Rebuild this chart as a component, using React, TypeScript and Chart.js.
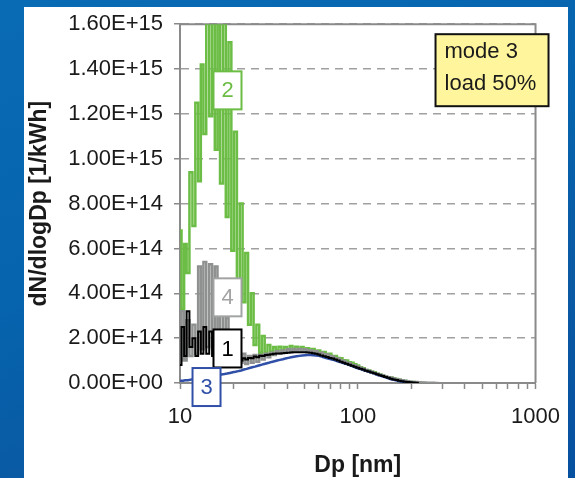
import { useEffect, useRef } from 'react';
import { Chart, registerables } from 'chart.js';

Chart.register(...registerables);

// Particle diameters (nm), 64 channels per decade
const diameters = [
  10.0, 10.4, 10.7, 11.1, 11.5, 12.0, 12.4, 12.9, 13.3, 13.8,
  14.3, 14.9, 15.4, 16.0, 16.5, 17.1, 17.8, 18.4, 19.1, 19.8,
  20.5, 21.3, 22.1, 22.9, 23.7, 24.6, 25.5, 26.4, 27.4, 28.4,
  29.4, 30.5, 31.6, 32.8, 34.0, 35.2, 36.5, 37.9, 39.2, 40.7,
  42.2, 43.7, 45.3, 47.0, 48.7, 50.5, 52.3, 54.2, 56.2, 58.3,
  60.4, 62.6, 64.9, 67.3, 69.8, 72.3, 75.0, 77.7, 80.6, 83.5,
  86.6, 89.8, 93.1, 96.5, 100, 103.7, 107.5, 111.4, 115.5, 119.7,
  124.1, 128.6, 133.4, 138.2, 143.3, 148.6, 154.0, 159.6, 165.5, 171.5,
  177.8, 184.3, 191.1, 198.1, 205.4, 212.9, 220.7, 228.8, 237.1, 245.8,
  254.8, 264.2, 273.8, 283.9,
];

// dN/dlogDp values in units of 1E+14 1/kWh
const series1 = [ // black
  0.8, 2.5, 1.2, 3.2, 1.6, 2.0, 1.2, 2.3, 1.3, 2.5,
  1.3, 2.3, 1.2, 2.1, 1.1, 1.6, 1.0, 1.3, 0.9, 1.1,
  0.95, 1.05, 1.0, 1.1, 1.05, 1.12, 1.1, 1.18, 1.15, 1.22,
  1.2, 1.25, 1.26, 1.28, 1.3, 1.31, 1.32, 1.33, 1.34, 1.35,
  1.36, 1.37, 1.37, 1.37, 1.37, 1.37, 1.36, 1.35, 1.33, 1.3,
  1.27, 1.23, 1.19, 1.16, 1.12, 1.09, 1.05, 1.0, 0.95, 0.9,
  0.86, 0.81, 0.77, 0.72, 0.68, 0.64, 0.6, 0.55, 0.51, 0.47,
  0.43, 0.39, 0.35, 0.31, 0.27, 0.23, 0.19, 0.16, 0.13, 0.1,
  0.08, 0.06, 0.04, 0.03, 0.02, 0.01, 0,
];
const series2 = [ // green
  6.8, 3.3, 6.2, 4.9, 9.4, 7.0, 12.5, 9.0, 14.2, 11.1,
  17.5, 11.9, 17.5, 10.4, 17.5, 8.9, 17.5, 7.4, 15.2, 5.9,
  11.2, 4.5, 8.0, 3.6, 5.8, 2.6, 4.0, 1.7, 2.6, 1.35,
  2.1, 1.35, 1.7, 1.4, 1.6, 1.45, 1.62, 1.45, 1.6, 1.5,
  1.65, 1.5, 1.62, 1.52, 1.6, 1.5, 1.55, 1.48, 1.52, 1.42,
  1.45, 1.36, 1.38, 1.28, 1.3, 1.2, 1.2, 1.12, 1.1, 1.02,
  1.0, 0.93, 0.9, 0.84, 0.78, 0.7, 0.66, 0.58, 0.56, 0.5,
  0.48, 0.41, 0.38, 0.33, 0.3, 0.26, 0.24, 0.2, 0.18, 0.14,
  0.12, 0.09, 0.07, 0.05, 0.04, 0.03, 0.02, 0.01, 0,
];
const series3 = [ // blue
  0.1, 0.1, 0.12, 0.12, 0.15, 0.18, 0.2, 0.22, 0.25, 0.27,
  0.28, 0.3, 0.31, 0.33, 0.35, 0.38, 0.4, 0.42, 0.45, 0.48,
  0.5, 0.53, 0.56, 0.6, 0.63, 0.67, 0.7, 0.73, 0.77, 0.8,
  0.84, 0.87, 0.9, 0.94, 0.97, 1.0, 1.03, 1.06, 1.09, 1.12,
  1.15, 1.17, 1.19, 1.21, 1.23, 1.24, 1.25, 1.25, 1.24, 1.23,
  1.21, 1.18, 1.14, 1.1, 1.07, 1.04, 1.0, 0.96, 0.92, 0.88,
  0.84, 0.8, 0.75, 0.7, 0.66, 0.62, 0.58, 0.54, 0.5, 0.46,
  0.42, 0.37, 0.33, 0.29, 0.25, 0.21, 0.17, 0.14, 0.11, 0.08,
  0.06, 0.04, 0.02, 0.01, 0,
];
const series4 = [ // grey
  1.0, 3.2, 1.0, 2.8, 1.2, 2.6, 1.3, 5.2, 1.5, 5.4,
  1.6, 5.3, 1.5, 5.2, 1.4, 3.0, 1.3, 2.9, 1.2, 2.2,
  1.0, 1.8, 0.9, 1.3, 0.85, 1.2, 0.9, 1.25, 0.95, 1.25,
  1.05, 1.3, 1.15, 1.35, 1.25, 1.42, 1.32, 1.45, 1.38, 1.5,
  1.42, 1.52, 1.45, 1.52, 1.45, 1.5, 1.44, 1.46, 1.4, 1.42,
  1.35, 1.35, 1.28, 1.27, 1.2, 1.18, 1.1, 1.08, 1.0, 0.98,
  0.9, 0.88, 0.8, 0.78, 0.72, 0.68, 0.62, 0.58, 0.53, 0.5,
  0.45, 0.41, 0.37, 0.33, 0.3, 0.26, 0.23, 0.2, 0.17, 0.14,
  0.12, 0.1, 0.08, 0.06, 0.05, 0.04, 0.03, 0.02, 0.02, 0.01,
  0.01, 0.01, 0, 0,
];

const xTickValues = [10, 20, 30, 40, 50, 60, 70, 80, 90, 100, 200, 300, 400, 500, 600, 700, 800, 900, 1000];
const xTickLabels = [10, 100, 1000];
const yMax = 1.6e15;
const yStep = 2e14;
const UNIT = 1e14;

const curveLabels = [
  { text: '2', x: 18.5, y: 13.05e14, color: '#6cbd45' },
  { text: '4', x: 18.5, y: 3.82e14, color: '#a2a4a3' },
  { text: '1', x: 18.5, y: 1.54e14, color: '#000000' },
  { text: '3', x: 14.1, y: -0.18e14, color: '#3050a8' },
];
const noteLines = ['mode 3', 'load 50%'];

const FONT = '"Liberation Sans", Arial, Helvetica, sans-serif';
const AXIS = '#8a8a8a';

function sci(v: number): string {
  return v.toExponential(2).replace(/e([+-])(\d)$/, 'e$10$2').toUpperCase();
}

function pts(vals: number[]) {
  return vals.map((v, i) => ({ x: diameters[i], y: v * UNIT }));
}

const framePlugin = {
  id: 'frame',
  beforeDatasetsDraw(chart: any) {
    const { ctx, chartArea: a } = chart;
    ctx.save();
    ctx.strokeStyle = AXIS;
    ctx.lineWidth = 2;
    ctx.beginPath();
    ctx.moveTo(a.left, a.top);
    ctx.lineTo(a.right, a.top);
    ctx.lineTo(a.right, a.bottom);
    ctx.stroke();
    ctx.restore();
  },
};

const labelPlugin = {
  id: 'labels',
  afterDatasetsDraw(chart: any) {
    const { ctx, chartArea: a, scales } = chart;
    ctx.save();
    ctx.font = '22px ' + FONT;
    ctx.textAlign = 'center';
    ctx.textBaseline = 'middle';
    for (const l of curveLabels) {
      const px = scales.x.getPixelForValue(l.x);
      const py = scales.y.getPixelForValue(l.y);
      const w = 28, h = 38;
      ctx.fillStyle = '#ffffff';
      ctx.fillRect(px - w / 2, py - h / 2, w, h);
      ctx.strokeStyle = l.color;
      ctx.lineWidth = 2;
      ctx.strokeRect(px - w / 2, py - h / 2, w, h);
      ctx.fillStyle = l.color;
      ctx.fillText(l.text, px, py + 1);
    }
    // note box
    const bx = a.right - 100, by = a.top + 10, bw = 113, bh = 72;
    ctx.fillStyle = '#fff59c';
    ctx.fillRect(bx, by, bw, bh);
    ctx.strokeStyle = '#111111';
    ctx.lineWidth = 2;
    ctx.strokeRect(bx, by, bw, bh);
    ctx.fillStyle = '#1a1a1a';
    ctx.textAlign = 'left';
    noteLines.forEach((t, i) => ctx.fillText(t, bx + 9, by + 18 + i * 32));
    ctx.restore();
  },
};

export default function App() {
  const ref = useRef<HTMLCanvasElement | null>(null);
  useEffect(() => {
    if (!ref.current) return;
    Chart.defaults.font.family = FONT;
    const chart = new Chart(ref.current, {
      type: 'scatter',
      data: {
        datasets: [
          { label: '1', data: pts(series1), borderColor: '#000000', borderWidth: 2, stepped: 'middle' },
          { label: '3', data: pts(series3), borderColor: '#3050a8', borderWidth: 2.5, stepped: false },
          { label: '4', data: pts(series4), borderColor: '#8e9190', borderWidth: 2.5, stepped: 'middle' },
          { label: '2', data: pts(series2), borderColor: '#6cbd45', borderWidth: 2.5, stepped: 'middle' },
        ].map((d) => ({ ...d, showLine: true, pointRadius: 0, tension: 0, fill: false })),
      },
      options: {
        animation: false,
        responsive: false,
        devicePixelRatio: 1,
        layout: { padding: { left: 0, right: 36, top: 19, bottom: 0 } },
        plugins: { legend: { display: false }, tooltip: { enabled: false } },
        scales: {
          x: {
            type: 'logarithmic',
            min: 10,
            max: 1000,
            afterBuildTicks: (s: any) => {
              s.ticks = xTickValues.map((v) => ({ value: v }));
            },
            afterFit: (s: any) => {
              s.height = 95;
            },
            ticks: {
              autoSkip: false,
              maxRotation: 0,
              minRotation: 0,
              padding: 15,
              color: '#1a1a1a',
              font: { size: 22, family: FONT },
              callback: (v: any) => (xTickLabels.includes(Number(v)) ? String(v) : ''),
            },
            grid: { drawOnChartArea: false, drawTicks: true, tickLength: 6, tickColor: AXIS, tickWidth: 1.5 },
            border: { color: AXIS, width: 2 },
            title: {
              display: true,
              text: 'Dp [nm]',
              color: '#1a1a1a',
              font: { size: 23, weight: 'bold', family: FONT, lineHeight: 1 },
              padding: { top: 0, bottom: 0.5 },
            },
          },
          y: {
            type: 'linear',
            min: 0,
            max: yMax,
            afterFit: (s: any) => {
              s.width = 180;
            },
            ticks: {
              stepSize: yStep,
              padding: 11,
              color: '#1a1a1a',
              font: { size: 22, family: FONT },
              callback: (v: any) => sci(Number(v)),
            },
            grid: { color: '#a0a0a0', lineWidth: 1.5, tickLength: 6, tickColor: AXIS, tickWidth: 1.5, tickBorderDash: [] },
            border: { color: AXIS, width: 2, dash: [8, 6] },
            title: {
              display: true,
              text: 'dN/dlogDp [1/kWh]',
              color: '#1a1a1a',
              font: { size: 23, weight: 'bold', family: FONT },
              padding: { top: 26, bottom: 0 },
            },
          },
        },
      } as any,
      plugins: [framePlugin, labelPlugin],
    });
    return () => chart.destroy();
  }, []);

  return (
    <div
      style={{
        position: 'fixed',
        left: 0,
        top: 0,
        width: 575,
        height: 478,
        overflow: 'hidden',
        background: 'linear-gradient(160deg, #0a6bb5 0%, #0663ad 45%, #0a5aa4 70%, #0650a0 100%)',
      }}
    >
      <div style={{ position: 'absolute', left: 24, top: 7, width: 544, height: 471, background: '#ffffff' }} />
      <canvas
        ref={ref}
        width={575}
        height={478}
        style={{ position: 'absolute', left: 0, top: 0, width: 575, height: 478, display: 'block' }}
      />
    </div>
  );
}
